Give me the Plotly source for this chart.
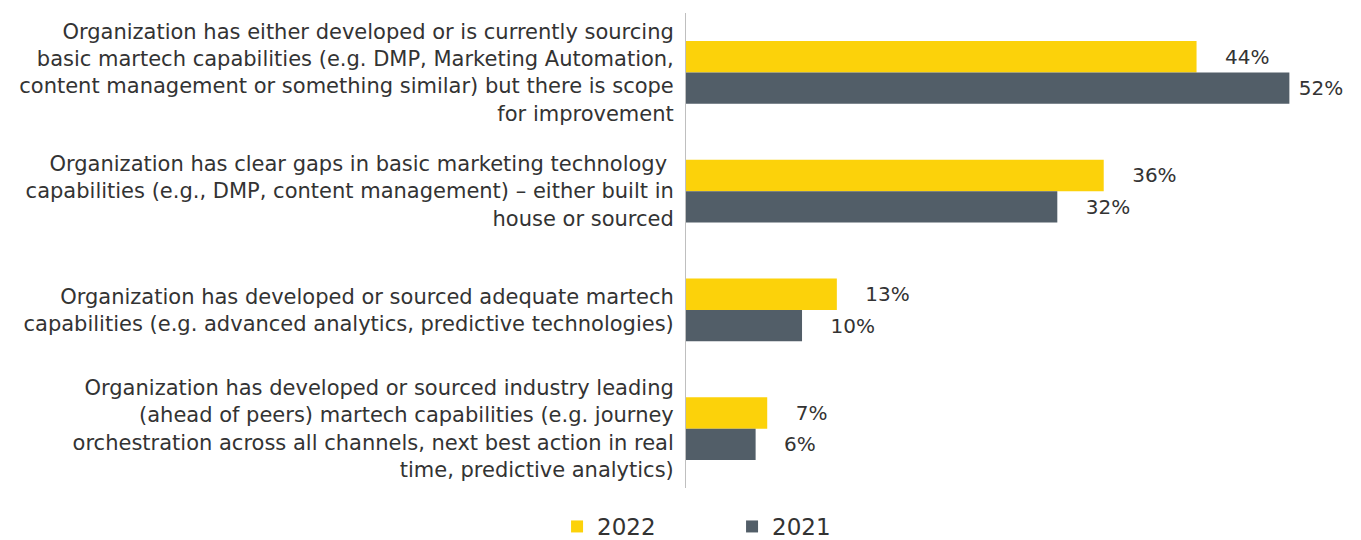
import plotly.graph_objects as go

categories = [
    "Organization has either developed or is currently sourcing<br>basic martech capabilities (e.g. DMP, Marketing Automation,<br>content management or something similar) but there is scope<br>for improvement",
    "Organization has clear gaps in basic marketing technology <br>capabilities (e.g., DMP, content management) – either built in<br>house or sourced",
    "Organization has developed or sourced adequate martech<br>capabilities (e.g. advanced analytics, predictive technologies)",
    "Organization has developed or sourced industry leading<br>(ahead of peers) martech capabilities (e.g. journey<br>orchestration across all channels, next best action in real<br>time, predictive analytics)",
]
vals_2022 = [44, 36, 13, 7]
vals_2021 = [52, 32, 10, 6]

yellow = "#FCD20A"
grey = "#525E68"
font = "DejaVu Sans"
txt = "#333333"

# the long 2021 bar leaves little room for a padded label
pad_2022 = ["    "] * 4
pad_2021 = [" ", "    ", "    ", "    "]
text_2022 = [p + f"{v}%" for p, v in zip(pad_2022, vals_2022)]
text_2021 = [p + f"{v}%" for p, v in zip(pad_2021, vals_2021)]

fig = go.Figure()
fig.add_trace(go.Bar(
    y=categories, x=vals_2022, name="2022", orientation="h",
    marker=dict(color=yellow, line=dict(width=0)),
    text=text_2022, textposition="outside", cliponaxis=False,
    textfont=dict(size=20, color=txt, family=font),
))
fig.add_trace(go.Bar(
    y=categories, x=vals_2021, name="2021", orientation="h",
    marker=dict(color=grey, line=dict(width=0)),
    text=text_2021, textposition="outside", cliponaxis=False,
    textfont=dict(size=20, color=txt, family=font),
))

fig.update_layout(
    width=1361, height=540,
    margin=dict(l=678, r=10, t=5, b=60, autoexpand=False),
    barmode="group", bargap=0.47, bargroupgap=0,
    plot_bgcolor="white", paper_bgcolor="white",
    font=dict(family=font, size=20, color=txt),
    showlegend=True,
    legend=dict(
        orientation="h", xref="container", x=0.532, xanchor="center",
        yref="container", y=-0.012, yanchor="bottom",
        font=dict(size=23, color=txt),
        entrywidth=130, traceorder="normal",
    ),
)
fig.update_xaxes(range=[0, 58], visible=False, showgrid=False)
fig.update_yaxes(
    autorange="reversed", showgrid=False, showline=True, linecolor="#BFBFBF",
    linewidth=1, ticks="", ticklabelstandoff=7, automargin=False,
    tickfont=dict(size=21, color=txt, family=font),
)

fig.write_html("out.html")
